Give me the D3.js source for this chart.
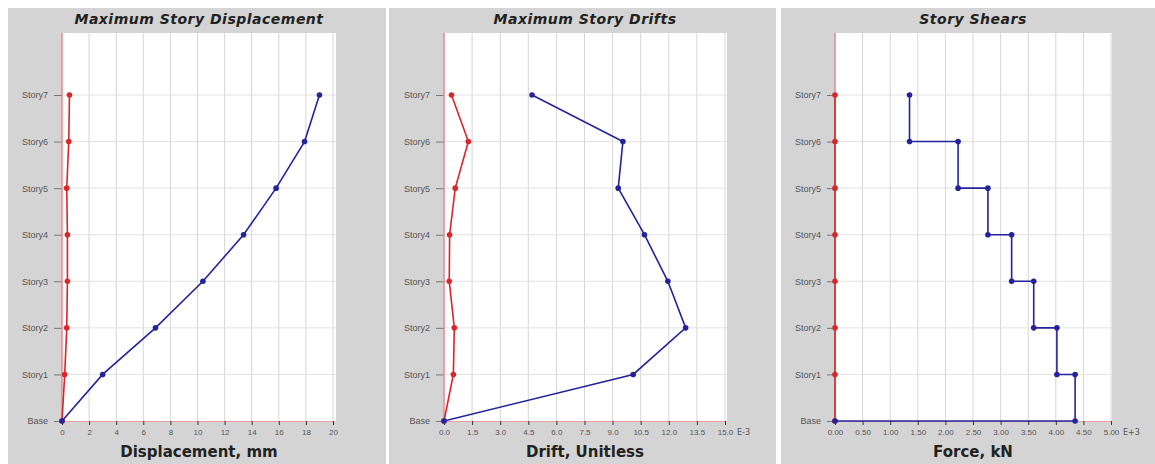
<!DOCTYPE html>
<html>
<head>
<meta charset="utf-8">
<script src="https://cdn.jsdelivr.net/npm/d3@7"></script>
<style>
  body { margin: 0; background: #fff; }
  svg { display: block; font-family: "DejaVu Sans", Arial, sans-serif; }
</style>
</head>
<body>
<svg id="chart"></svg>
<script>
var width = 1155,
    height = 464;

// story levels, bottom to top
var stories = ["Base", "Story1", "Story2", "Story3", "Story4", "Story5", "Story6", "Story7"];

// Maximum story displacement, mm (Base..Story7)
var disp_red  = [0, 0.2, 0.35, 0.4, 0.4, 0.35, 0.5, 0.55];
var disp_blue = [0, 3.0, 6.9, 10.4, 13.4, 15.8, 17.9, 19.0];
var disp_ticks = [0, 2, 4, 6, 8, 10, 12, 14, 16, 18, 20];

// Maximum story drifts, E-3 (Base..Story7)
var drift_red  = [0, 0.5, 0.55, 0.28, 0.3, 0.6, 1.3, 0.4];
var drift_blue = [0, 10.1, 12.9, 11.95, 10.7, 9.3, 9.55, 4.7];
var drift_ticks = [0, 1.5, 3.0, 4.5, 6.0, 7.5, 9.0, 10.5, 12.0, 13.5, 15.0];

// Story shears, E+3 kN (Story1..Story7)
var shear_red  = [0, 0, 0, 0, 0, 0, 0, 0];
var shear_blue = [4.35, 4.02, 3.6, 3.2, 2.77, 2.23, 1.35];
var shear_ticks = [0, 0.5, 1.0, 1.5, 2.0, 2.5, 3.0, 3.5, 4.0, 4.5, 5.0];

var RED = "#d8262a",
    BLUE = "#25239c";

function level_points(values) {
  return values.map(function(v, i) { return [v, i]; });
}

// shear is drawn as a step: constant between a story and the one below
function shear_points(values) {
  var pts = [];
  for (var i = values.length; i >= 1; i--) {
    pts.push([values[i - 1], i]);
    pts.push([values[i - 1], i - 1]);
  }
  pts.push([0, 0]);
  return pts;
}

var svg = d3.select("#chart")
  .attr("width", width)
  .attr("height", height);

var plot_top = 33,
    plot_base = 421,
    story_top = 95;

var panels = [
  { bx: 8, bw: 378, x0: 62, x1: 333, right: 336, domain: [0, 20], ticks: disp_ticks,
    fmt: d3.format("d"), unit: "", title: "Maximum Story Displacement", xtitle: "Displacement, mm",
    cx: 199, series: [level_points(disp_red), level_points(disp_blue)] },
  { bx: 389, bw: 387, x0: 444, x1: 725, right: 727, domain: [0, 15], ticks: drift_ticks,
    fmt: d3.format(".1f"), unit: "E-3", title: "Maximum Story Drifts", xtitle: "Drift, Unitless",
    cx: 585, series: [level_points(drift_red), level_points(drift_blue)] },
  { bx: 781, bw: 374, x0: 835, x1: 1111, right: 1112, domain: [0, 5], ticks: shear_ticks,
    fmt: d3.format(".2f"), unit: "E+3", title: "Story Shears", xtitle: "Force, kN",
    cx: 973, series: [level_points(shear_red), shear_points(shear_blue)] }
];

panels.forEach(function(p) {
  var g = svg.append("g");

  g.append("rect")
    .attr("x", p.bx).attr("y", 8)
    .attr("width", p.bw).attr("height", height - 8)
    .attr("fill", "#d4d4d4");

  g.append("rect")
    .attr("x", p.x0).attr("y", plot_top)
    .attr("width", p.right - p.x0).attr("height", plot_base - plot_top)
    .attr("fill", "#ffffff");

  var x = d3.scaleLinear().domain(p.domain).range([p.x0, p.x1]);
  var y = d3.scaleLinear().domain([0, 7]).range([plot_base, story_top]);

  // grid
  g.append("g").selectAll("line")
    .data(p.ticks.slice(1))
    .enter().append("line")
      .attr("x1", function(d) { return x(d); })
      .attr("x2", function(d) { return x(d); })
      .attr("y1", plot_top).attr("y2", plot_base)
      .attr("stroke", "#d6d6d6").attr("stroke-width", 1);

  g.append("g").selectAll("line")
    .data(d3.range(1, 8))
    .enter().append("line")
      .attr("x1", p.x0).attr("x2", p.right)
      .attr("y1", function(d) { return y(d); })
      .attr("y2", function(d) { return y(d); })
      .attr("stroke", "#e2e2e2").attr("stroke-width", 1);

  // axes
  var xAxis = g.append("g")
    .attr("transform", "translate(0," + plot_base + ")")
    .call(d3.axisBottom(x).tickValues(p.ticks).tickFormat(p.fmt).tickSize(4).tickPadding(4));
  xAxis.select(".domain").attr("stroke", "#eaa0a0");
  xAxis.selectAll(".tick line").attr("stroke", "#333");
  xAxis.selectAll("text").attr("fill", "#555").style("font-size", "8px");

  if (p.unit) {
    g.append("text")
      .attr("x", p.x1 + 12).attr("y", plot_base + 14)
      .attr("fill", "#555").style("font-size", "8px")
      .text(p.unit);
  }

  var yAxis = g.append("g")
    .attr("transform", "translate(" + p.x0 + ",0)")
    .call(d3.axisLeft(y).tickValues(d3.range(0, 8)).tickFormat(function(i) { return stories[i]; })
      .tickSize(8).tickPadding(6));
  yAxis.select(".domain").remove();
  yAxis.selectAll(".tick line").attr("stroke", "#777");
  yAxis.selectAll("text").attr("fill", "#555").style("font-size", "9px");

  g.append("line")
    .attr("x1", p.x0).attr("x2", p.x0)
    .attr("y1", plot_top).attr("y2", plot_base)
    .attr("stroke", "#e88a8a").attr("stroke-width", 1.5);

  // series
  var line = d3.line()
    .x(function(d) { return x(d[0]); })
    .y(function(d) { return y(d[1]); });

  var colors = [RED, BLUE];
  p.series.forEach(function(pts, k) {
    g.append("path")
      .datum(pts)
      .attr("d", line)
      .attr("fill", "none")
      .attr("stroke", colors[k])
      .attr("stroke-width", 1.6);

    g.append("g").selectAll("circle")
      .data(pts)
      .enter().append("circle")
        .attr("cx", function(d) { return x(d[0]); })
        .attr("cy", function(d) { return y(d[1]); })
        .attr("r", 2.8)
        .attr("fill", colors[k]);
  });

  // titles
  g.append("text")
    .attr("x", p.cx).attr("y", 24)
    .attr("text-anchor", "middle")
    .style("font-size", "14px").style("font-weight", "bold").style("font-style", "italic")
    .style("letter-spacing", "0.5px")
    .attr("fill", "#222")
    .text(p.title);

  g.append("text")
    .attr("x", p.cx).attr("y", 457)
    .attr("text-anchor", "middle")
    .style("font-size", "15px").style("font-weight", "bold")
    .attr("fill", "#222")
    .text(p.xtitle);
});
</script>
</body>
</html>
